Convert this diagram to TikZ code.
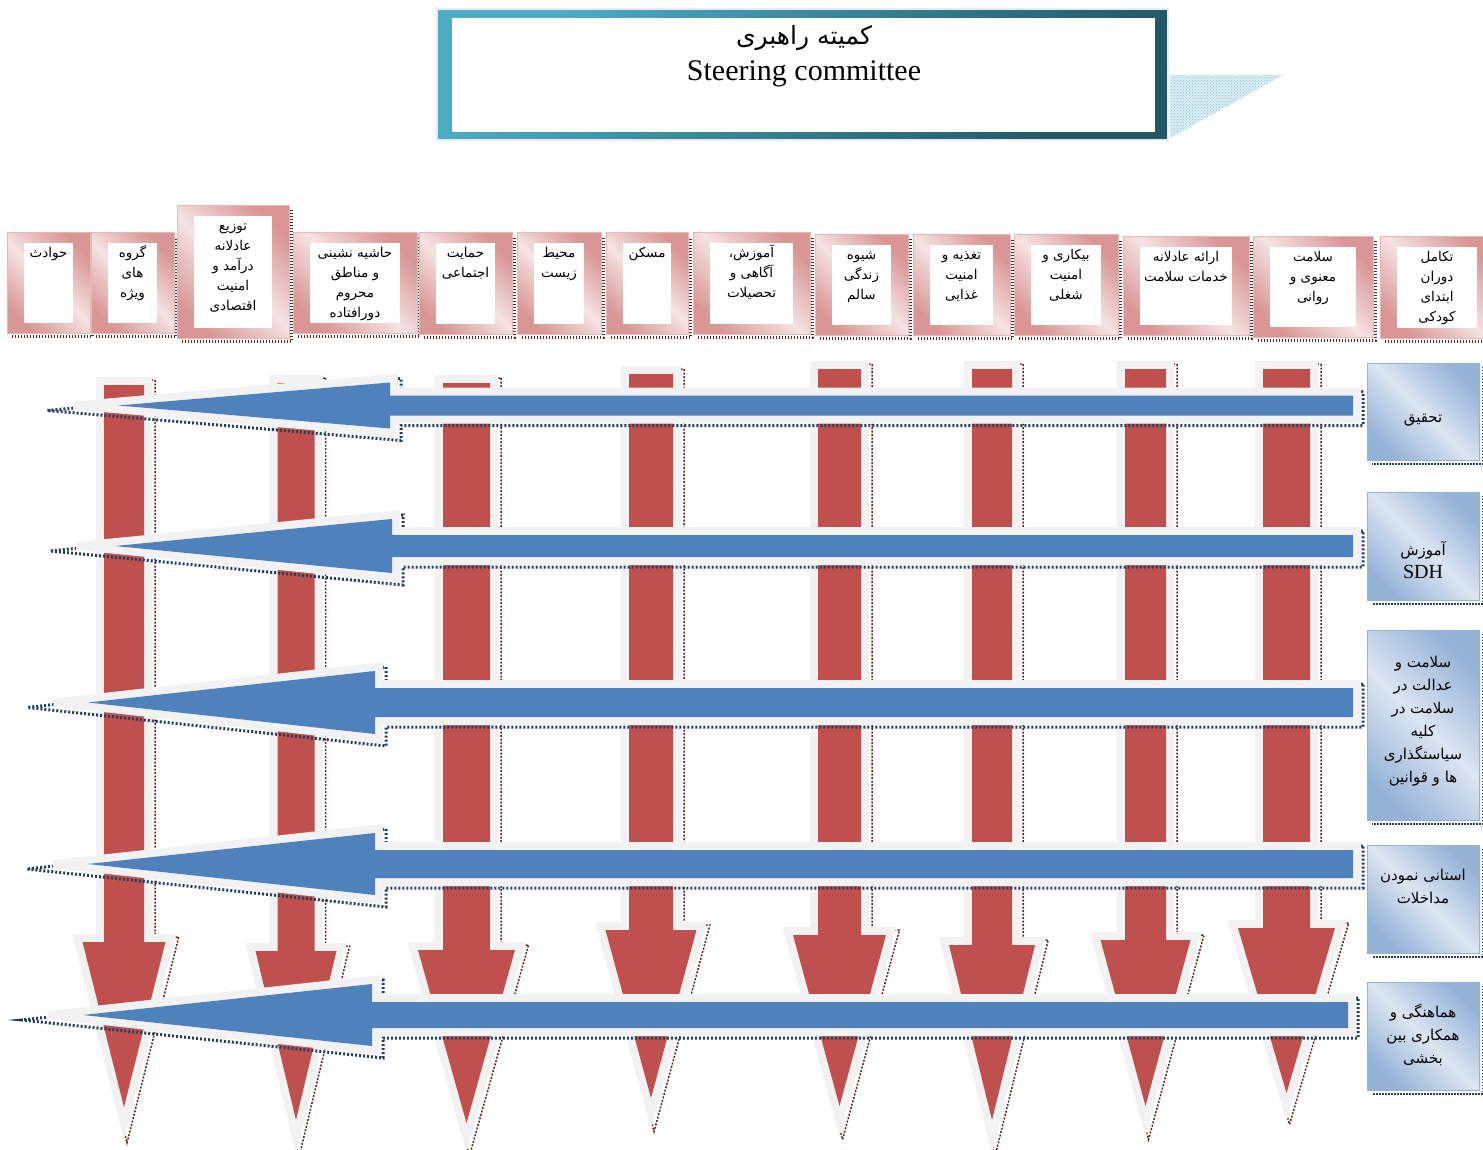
\documentclass[tikz,border=0pt]{standalone}
\usepackage{fontspec}
\setmainfont{Liberation Serif}
\newfontfamily\farsifont[Script=Arabic]{DejaVu Sans}
\TeXXeTstate=1
\usepackage{tikz}
\usetikzlibrary{patterns}

\definecolor{pinkdark}{HTML}{D99694}
\definecolor{pinklight}{HTML}{F5E3E2}
\definecolor{pinkedge}{HTML}{E6B9B8}
\definecolor{shadowred}{HTML}{632523}
\definecolor{bluedark}{HTML}{95B3D7}
\definecolor{bluelight}{HTML}{DCE6F2}
\definecolor{shadowblue}{HTML}{243F60}
\definecolor{arrowred}{HTML}{C0504D}
\definecolor{arrowblue}{HTML}{4F81BD}
\definecolor{halo}{HTML}{F2F2F2}
\definecolor{teallight}{HTML}{4BACC6}
\definecolor{tealdark}{HTML}{215968}

\newcommand{\fatxt}[1]{\strut\beginR#1\endR}

% name, x1, y1, x2, y2, text
\newcommand{\pinkbox}[6]{%
  \node[pinkframe, minimum width={#4-#2}, minimum height={#5-#3}] (#1) at ({(#2+#4)/2},{(#3+#5)/2}) {};
  \draw[pinkshadow] ([shift={(5,3)}]#1.south west) -- ([shift={(2,3)}]#1.south east) -- ([shift={(2,5)}]#1.north east);
  \node[pinkinner, minimum width={#4-#2-34}, minimum height={#5-#3-20}] (#1-in) at (#1.center) {};
  \node[pinktext] (#1-txt) at ([shift={(0,1)}]#1-in.north) {#6};
}

% center x, shaft half width, top, head top, head half width, tip
\newcommand{\redarrow}[6]{%
  \pgfmathsetmacro{\arrL}{#6-#4}
  \pgfmathsetmacro{\arrS}{\arrL*sqrt(1+((#5)/\arrL)^2)}
  \pgfmathsetmacro{\arrDx}{#5+8*\arrL/\arrS+8*((#5)/\arrL)*(1+(#5)/\arrS)}
  \pgfmathsetmacro{\arrEy}{#6+8*\arrS/(#5)}
  \draw[redshadow] (#1+#2+11,#3-5) -- (#1+#2+11,#4-5) -- (#1+\arrDx+3,#4-5) -- (#1+3,\arrEy+3)
    -- (#1-\arrDx+3,#4-5) -- (#1-#2-5,#4-5) -- (#1-#2-5,#3-5) -- cycle;
  \path[redarrowfill] (#1-#2,#3) -- (#1+#2,#3) -- (#1+#2,#4) -- (#1+#5,#4) -- (#1,#6)
    -- (#1-#5,#4) -- (#1-#2,#4) -- cycle;
}

% center y, tip x, head base x, tail x, shaft half width, head half width
\newcommand{\bluearrow}[6]{%
  \pgfmathsetmacro{\arrG}{3.8*(#3-#2)/(#6)}
  \draw[blueshadow] (#4+10,#1-#5-4) -- (#3+11,#1-#5-4) -- (#3+11,#1-#6-4) -- (#2-\arrG-26,#1+5)
    -- (#3+11,#1+#6+12) -- (#3+11,#1+#5+10) -- (#4+10,#1+#5+10) -- cycle;
  \fill[halo] (#4+8,#1-#5-8) -- (#3+8,#1-#5-8) -- (#3+8,#1-#6-9) -- (#2-\arrG,#1-4) -- (#2-\arrG,#1+4)
    -- (#3+8,#1+#6+9) -- (#3+8,#1+#5+8) -- (#4+8,#1+#5+8) -- cycle;
  \fill[arrowblue] (#4,#1-#5) -- (#3,#1-#5) -- (#3,#1-#6) -- (#2,#1) -- (#3,#1+#6)
    -- (#3,#1+#5) -- (#4,#1+#5) -- cycle;
}

\tikzset{
  pinkframe/.style={rectangle, draw=pinkedge, line width=1pt, top color=pinkdark, bottom color=pinkdark, middle color=pinklight, shading angle=-45, inner sep=0pt},
  pinkinner/.style={rectangle, fill=white, inner sep=0pt},
  pinktext/.style={anchor=north, align=center, inner sep=0pt, font=\farsifont\fontsize{13.5}{19.8}\selectfont},
  pinkshadow/.style={draw=shadowred, line width=3pt, dash pattern=on 1.5pt off 1.5pt},
  bluebox/.style={rectangle, draw=bluedark, line width=1pt, top color=bluedark, bottom color=bluedark, middle color=bluelight, shading angle=-45, minimum width=112, inner sep=0pt},
  bluetext/.style={align=center, inner sep=0pt, font=\farsifont\fontsize{15}{23}\selectfont},
  blueboxshadow/.style={draw=shadowblue, line width=2pt, dash pattern=on 1.5pt off 1.5pt},
  redshadow/.style={draw=shadowred, line width=1.5pt, dash pattern=on 2pt off 1.5pt},
  redarrowfill/.style={fill=arrowred, preaction={draw=halo, line width=16pt, line join=miter}},
  blueshadow/.style={draw=shadowblue, line width=3pt, dash pattern=on 2pt off 2pt},
}

\begin{document}
\begin{tikzpicture}[x=1pt, y=-1pt]
  \useasboundingbox (0,0) rectangle (1483,1150);

  % steering committee
  \fill[teallight!20] (1170,75) -- (1283,75) -- (1170,138) -- cycle;
  \fill[pattern=crosshatch dots, pattern color=teallight!70] (1170,75) -- (1283,75) -- (1170,138) -- cycle;
  \node[rectangle, draw=black!8, line width=2pt, top color=teallight, bottom color=tealdark, shading angle=45, minimum width=731, minimum height=131, inner sep=0pt] (steer) at (802.5,74.5) {};
  \node[rectangle, fill=white, inner sep=0pt, minimum width=703, minimum height=114] (steer-in) at (803.5,75) {};
  \node[font=\farsifont\fontsize{25}{28}\selectfont, inner sep=0pt, anchor=base] (steer-fa) at (804,45) {\beginR کمیته راهبری\endR};
  \node[font=\fontsize{30}{34}\selectfont, inner sep=0pt, anchor=base] (steer-en) at (804,81) {Steering committee};

  % top row of topics
  \pinkbox{havades}{7}{233}{90}{333}{\fatxt{حوادث}}
  \pinkbox{goruh}{91}{233}{174}{333}{\fatxt{گروه}\\\fatxt{های}\\\fatxt{ویژه}}
  \pinkbox{tozi}{177}{206}{289}{338}{\fatxt{توزیع}\\\fatxt{عادلانه}\\\fatxt{درآمد و}\\\fatxt{امنیت}\\\fatxt{اقتصادی}}
  \pinkbox{hashie}{293}{233}{417}{333}{\fatxt{حاشیه نشینی}\\\fatxt{و مناطق}\\\fatxt{محروم}\\\fatxt{دورافتاده}}
  \pinkbox{hemayat}{419}{233}{512}{334}{\fatxt{حمایت}\\\fatxt{اجتماعی}}
  \pinkbox{mohit}{517}{233}{601}{334}{\fatxt{محیط}\\\fatxt{زیست}}
  \pinkbox{maskan}{606}{233}{688}{334}{\fatxt{مسکن}}
  \pinkbox{amuzesh}{693}{233}{810}{334}{\fatxt{آموزش،}\\\fatxt{آگاهی و}\\\fatxt{تحصیلات}}
  \pinkbox{shive}{815}{235}{908}{335}{\fatxt{شیوه}\\\fatxt{زندگی}\\\fatxt{سالم}}
  \pinkbox{taghzie}{913}{235}{1010}{335}{\fatxt{تغذیه و}\\\fatxt{امنیت}\\\fatxt{غذایی}}
  \pinkbox{bikari}{1014}{235}{1118}{335}{\fatxt{بیکاری و}\\\fatxt{امنیت}\\\fatxt{شغلی}}
  \pinkbox{erae}{1123}{237}{1249}{335}{\fatxt{ارائه عادلانه}\\\fatxt{خدمات سلامت}}
  \pinkbox{manavi}{1253}{237}{1373}{337}{\fatxt{سلامت}\\\fatxt{معنوی و}\\\fatxt{روانی}}
  \pinkbox{takamol}{1380}{237}{1494}{338}{\fatxt{تکامل}\\\fatxt{دوران}\\\fatxt{ابتدای}\\\fatxt{کودکی}}

  % strategies on the right
  \node[bluebox, minimum height=97] (tahqiq) at (1423,411.5) {};
  \node[bluebox, minimum height=108] (sdh) at (1423,546) {};
  \node[bluebox, minimum height=190] (edalat) at (1423,725) {};
  \node[bluebox, minimum height=108] (ostani) at (1423,899) {};
  \node[bluebox, minimum height=108] (hamahangi) at (1423,1036) {};
  \foreach \b in {tahqiq,sdh,edalat,ostani,hamahangi}
    \draw[blueboxshadow] ([shift={(3,4)}]\b.north east) -- ([shift={(3,3)}]\b.south east) -- ([shift={(5,3)}]\b.south west);
  \node[bluetext] (tahqiq-txt) at (1423,418) {\fatxt{تحقیق}};
  \node[bluetext] (sdh-txt) at (1423,559) {\fatxt{آموزش}\\{\rmfamily\fontsize{20}{23}\selectfont SDH}};
  \node[bluetext] (edalat-txt) at (1423,720) {\fatxt{سلامت و}\\\fatxt{عدالت در}\\\fatxt{سلامت در}\\\fatxt{کلیه}\\\fatxt{سیاستگذاری}\\\fatxt{ها و قوانین}};
  \node[bluetext] (ostani-txt) at (1423,887) {\fatxt{استانی نمودن}\\\fatxt{مداخلات}};
  \node[bluetext] (hamahangi-txt) at (1423,1036) {\fatxt{هماهنگی و}\\\fatxt{همکاری بین}\\\fatxt{بخشی}};

  % downward arrows
  \redarrow{124}{20}{385}{942}{41.5}{1107}
  \redarrow{296}{18.5}{383}{951}{40.5}{1120}
  \redarrow{466.5}{23.5}{383}{950}{48.5}{1123}
  \redarrow{651}{22}{374}{930}{45.5}{1098}
  \redarrow{839.5}{21.5}{369}{935}{46.5}{1106}
  \redarrow{992}{20}{369}{945}{43}{1120}
  \redarrow{1145.5}{20.5}{369}{940}{45}{1106}
  \redarrow{1286.5}{23.5}{369}{928}{48.5}{1093}

  % leftward arrows
  \bluearrow{405.5}{118}{390}{1353}{10}{23}
  \bluearrow{546}{115}{392}{1353}{11}{27}
  \bluearrow{702.5}{88}{375}{1353}{14.5}{31.5}
  \bluearrow{864}{88}{375}{1353}{14}{31}
  \bluearrow{1015}{83}{372}{1348}{13}{31}
\end{tikzpicture}
\end{document}
